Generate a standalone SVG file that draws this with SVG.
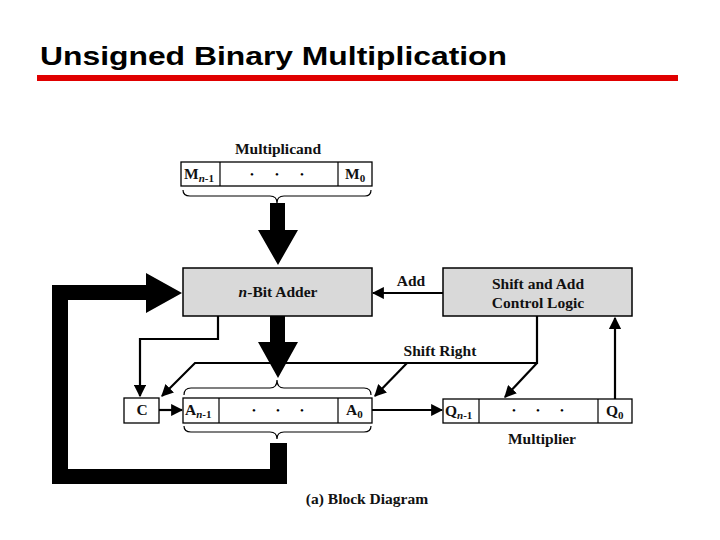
<svg xmlns="http://www.w3.org/2000/svg" width="720" height="540" viewBox="0 0 720 540">
<style>
.t{font-family:"Liberation Serif","Times New Roman",serif;font-weight:bold;font-size:15.5px;fill:#111}
.c{text-anchor:middle}
.box{fill:#fff;stroke:#000;stroke-width:1.3}
.gbox{fill:#d9d9d9;stroke:#000;stroke-width:1.5}
.ln{fill:none;stroke:#000;stroke-width:2.2}
.br{fill:none;stroke:#000;stroke-width:1.2}
.thick{fill:#000}
.sub{font-size:11px}
.dot{font-family:"Liberation Serif",serif;font-size:11px;fill:#000;text-anchor:middle}
</style>
<defs>
<marker id="ah" viewBox="0 0 10 10" refX="9" refY="5" markerWidth="5.5" markerHeight="5.5" orient="auto" markerUnits="strokeWidth">
<path d="M0,0 L10,5 L0,10 z" fill="#000"/>
</marker>
</defs>
<rect width="720" height="540" fill="#fff"/>
<g id="title">
<text x="40" y="65" font-family="Liberation Sans,Arial,sans-serif" font-weight="bold" font-size="26.5" fill="#000" textLength="467" lengthAdjust="spacingAndGlyphs">Unsigned Binary Multiplication</text>
<rect x="37" y="75" width="641" height="6" fill="#e00000"/>
</g>

<g id="multiplicand">
<text class="t c" x="278" y="154">Multiplicand</text>
<rect class="box" x="181" y="162" width="191" height="24"/>
<line x1="220" y1="162" x2="220" y2="186" stroke="#000" stroke-width="1.2"/>
<line x1="338" y1="162" x2="338" y2="186" stroke="#000" stroke-width="1.2"/>
<text class="t" x="184" y="179">M<tspan class="sub" dy="3"><tspan font-style="italic">n</tspan>-1</tspan></text>
<text class="t" x="345" y="179">M<tspan class="sub" dy="3">0</tspan></text>
<text class="dot" x="252" y="178">•</text><text class="dot" x="277" y="178">•</text><text class="dot" x="302" y="178">•</text>
<path class="br" d="M183,190 Q183,196 190,196 L270,196 Q277,196 277,203 Q277,196 284,196 L365,196 Q371,196 371,190"/>
</g>

<g id="adder">
<rect class="gbox" x="183" y="268" width="189" height="48"/>
<text class="t c" x="278" y="297"><tspan font-style="italic">n</tspan>-Bit Adder</text>
</g>

<g id="control">
<rect class="gbox" x="443" y="268" width="189" height="48"/>
<text class="t c" x="538" y="289">Shift and Add</text>
<text class="t c" x="538" y="308">Control Logic</text>
</g>

<g id="c-reg">
<rect class="box" x="124" y="398" width="35" height="25"/>
<text class="t c" x="142" y="415">C</text>
</g>

<g id="a-reg">
<rect class="box" x="183" y="398" width="189" height="25"/>
<line x1="219" y1="398" x2="219" y2="423" stroke="#000" stroke-width="1.2"/>
<line x1="338" y1="398" x2="338" y2="423" stroke="#000" stroke-width="1.2"/>
<text class="t" x="185" y="415">A<tspan class="sub" dy="3"><tspan font-style="italic">n</tspan>-1</tspan></text>
<text class="t" x="346" y="415">A<tspan class="sub" dy="3">0</tspan></text>
<text class="dot" x="254" y="414">•</text><text class="dot" x="278" y="414">•</text><text class="dot" x="302" y="414">•</text>
<path class="br" d="M184,395 Q184,388 191,388 L270,388 Q277,388 277,380 Q277,388 284,388 L364,388 Q371,388 371,395"/>
<path class="br" d="M184,426 Q184,432 191,432 L270,432 Q277,432 277,439 Q277,432 284,432 L364,432 Q371,432 371,426"/>
</g>

<g id="q-reg">
<rect class="box" x="443" y="399" width="189" height="24"/>
<line x1="479" y1="399" x2="479" y2="423" stroke="#000" stroke-width="1.2"/>
<line x1="598" y1="399" x2="598" y2="423" stroke="#000" stroke-width="1.2"/>
<text class="t" x="445" y="416">Q<tspan class="sub" dy="3"><tspan font-style="italic">n</tspan>-1</tspan></text>
<text class="t" x="606" y="416">Q<tspan class="sub" dy="3">0</tspan></text>
<text class="dot" x="514" y="414">•</text><text class="dot" x="538" y="414">•</text><text class="dot" x="562" y="414">•</text>
<text class="t c" x="542" y="444">Multiplier</text>
</g>

<g id="caption">
<text class="t c" x="367" y="504" font-size="15">(a) Block Diagram</text>
</g>

<g id="connectors">
<path class="thick" d="M270,203 L285,203 L285,230 L298,230 L278,265 L258,230 L270,230 z"/>
<path class="thick" d="M270,316 L285,316 L285,342 L298,342 L278,378 L258,342 L270,342 z"/>
<path class="thick" d="M270,443 L287,443 L287,484 L52,484 L52,285 L146,285 L146,273 L182,293 L146,313 L146,300 L68,300 L68,469 L270,469 z"/>
<path class="ln" d="M218,316 L218,339 L140,339 L140,396" marker-end="url(#ah)"/>
<path class="ln" d="M159,410 L182,410" marker-end="url(#ah)"/>
<path class="ln" d="M372,410 L442,410" marker-end="url(#ah)"/>
<path class="ln" d="M443,293 L373,293" marker-end="url(#ah)"/>
<text class="t c" x="411" y="286">Add</text>
<path class="ln" d="M537,316 L537,363 L195,363 L162,396" marker-end="url(#ah)"/>
<path class="ln" d="M407,363 L375,396" marker-end="url(#ah)"/>
<path class="ln" d="M537,363 L505,397" marker-end="url(#ah)"/>
<text class="t c" x="440" y="356">Shift Right</text>
<path class="ln" d="M615,399 L615,318" marker-end="url(#ah)"/>
</g>
</svg>
